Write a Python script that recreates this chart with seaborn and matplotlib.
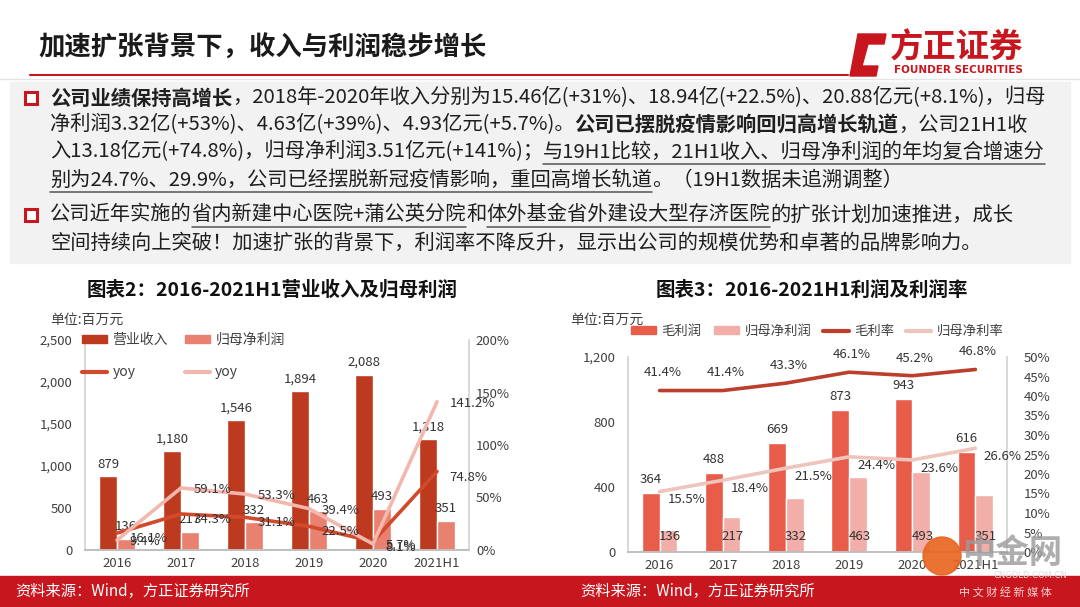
import matplotlib
matplotlib.use('Agg')
import matplotlib.pyplot as plt
import seaborn as sns
import pandas as pd
from matplotlib.patches import Patch, Rectangle, Polygon, Ellipse
from matplotlib.lines import Line2D
from matplotlib.ticker import FuncFormatter

# chart data (百万元 / %)
years = ['2016', '2017', '2018', '2019', '2020', '2021H1']
revenue = [879, 1180, 1546, 1894, 2088, 1318]
net_profit = [136, 217, 332, 463, 493, 351]
revenue_yoy = [16.1, 34.3, 31.1, 22.5, 8.1, 74.8]
profit_yoy = [9.4, 59.1, 53.3, 39.4, 5.7, 141.2]
gross_profit = [364, 488, 669, 873, 943, 616]
gross_margin = [41.4, 41.4, 43.3, 46.1, 45.2, 46.8]
net_margin = [15.5, 18.4, 21.5, 24.4, 23.6, 26.6]

# body text: (text, bold, underline)
line1 = [('公司业绩保持高增长', True, False),
         ('，2018年-2020年收入分别为15.46亿(+31%)、18.94亿(+22.5%)、20.88亿元(+8.1%)，归母', False, False)]
line2 = [('净利润3.32亿(+53%)、4.63亿(+39%)、4.93亿元(+5.7%)。', False, False),
         ('公司已摆脱疫情影响回归高增长轨道', True, False),
         ('，公司21H1收', False, False)]
line3 = [('入13.18亿元(+74.8%)，归母净利润3.51亿元(+141%)；', False, False),
         ('与19H1比较，21H1收入、归母净利润的年均复合增速分', False, True)]
line4 = [('别为24.7%、29.9%，公司已经摆脱新冠疫情影响，重回高增长轨道', False, True),
         ('。（19H1数据未追溯调整）', False, False)]
line5 = [('公司近年实施的', False, False),
         ('省内新建中心医院+蒲公英分院', False, True),
         ('和', False, False),
         ('体外基金省外建设大型存济医院', False, True),
         ('的扩张计划加速推进，成长', False, False)]
line6 = [('空间持续向上突破！加速扩张的背景下，利润率不降反升，显示出公司的规模优势和卓著的品牌影响力。', False, False)]

# colours
RED = '#C8161E'
C_REV = '#BE3A1E'
C_NP = '#EA8070'
C_REV_LINE = '#D24A2C'
C_NP_LINE = '#F2B8AE'
C_GP = '#E85C4A'
C_NP2 = '#F2AEA8'
C_GM_LINE = '#BC3F2C'
C_NM_LINE = '#EEC4BC'
TXT = '#333333'

sns.set_theme(style='white')
plt.rcParams['font.family'] = ['Noto Sans CJK SC', 'DejaVu Sans']
plt.rcParams['axes.unicode_minus'] = False

W, H = 1080, 607
fig = plt.figure(figsize=(W / 100, H / 100), dpi=100)
fig.patch.set_facecolor('white')


def fx(px):
    return px / W


def fy(py):
    return 1 - py / H


# ---------- header ----------
fig.text(fx(38), fy(48), '加速扩张背景下，收入与利润稳步增长', fontsize=19,
         fontweight='bold', color='#1a1a1a', va='center', ha='left')
fig.add_artist(Line2D([fx(30), fx(848)], [fy(75), fy(75)], transform=fig.transFigure,
                      color=RED, lw=1.5))
fig.add_artist(Line2D([fx(0), fx(1080)], [fy(79), fy(79)], transform=fig.transFigure,
                      color='#e4e4e4', lw=1))
logo = [(850, 76), (858, 34), (886, 34), (884, 44), (868, 44), (862, 66), (878, 66), (876, 76)]
fig.add_artist(Polygon([(fx(a), fy(b)) for a, b in logo], closed=True,
                       transform=fig.transFigure, color=RED))
fig.text(fx(890), fy(48), '方正证券', fontsize=24, fontweight='bold', color=RED,
         va='center', ha='left')
fig.text(fx(958), fy(70), 'FOUNDER SECURITIES', fontsize=7.5, fontweight='bold', color=RED,
         va='center', ha='center', family='DejaVu Sans')

# ---------- text box ----------
fig.add_artist(Rectangle((fx(10), fy(263)), fx(1060), 181 / H, transform=fig.transFigure,
                         color='#F2F2F2', zorder=0))
renderer = fig.canvas.get_renderer()


def write_line(x, y, parts, size=14.6):
    for txt, bold, under in parts:
        t = fig.text(fx(x), fy(y), txt, fontsize=size, color='#1f1f1f',
                     fontweight='bold' if bold else 'normal', va='center', ha='left')
        bb = t.get_window_extent(renderer)
        if under:
            fig.add_artist(Line2D([fx(bb.x0), fx(bb.x1)], [fy(y + 12), fy(y + 12)],
                                  transform=fig.transFigure, color='#555555', lw=1.1))
        x = bb.x1


for by in (98, 215):
    fig.add_artist(Rectangle((fx(25), fy(by + 6)), 12 / W, 12 / H, transform=fig.transFigure,
                             facecolor='white', edgecolor=RED, lw=2.2))

for yy, ln in zip([98, 125, 152, 180, 215, 243], [line1, line2, line3, line4, line5, line6]):
    write_line(50, yy, ln)

# ---------- left chart ----------
fig.text(fx(272), fy(290), '图表2：2016-2021H1营业收入及归母利润', fontsize=14,
         fontweight='bold', color='#111111', ha='center', va='center')
fig.text(fx(50), fy(320), '单位:百万元', fontsize=10, color='#404040', ha='left', va='center')

ax1 = fig.add_axes([fx(85), fy(550), 384 / W, 210 / H])
left_bars = pd.DataFrame({'year': years * 2, 'value': revenue + net_profit,
                          'series': ['营业收入'] * 6 + ['归母净利润'] * 6})
sns.barplot(data=left_bars, x='year', y='value', hue='series',
            hue_order=['营业收入', '归母净利润'], palette=[C_REV, C_NP],
            width=0.56, gap=0, saturation=1, errorbar=None, legend=False, ax=ax1)
for cont in ax1.containers:
    ax1.bar_label(cont, labels=[f'{v:,.0f}' for v in cont.datavalues], padding=4,
                  fontsize=9.5, color=TXT)
ax1.set_ylim(0, 2500)
ax1.set_yticks(range(0, 2501, 500))
ax1.yaxis.set_major_formatter(FuncFormatter(lambda v, p: f'{v:,.0f}'))

ax1r = ax1.twinx()
left_lines = pd.DataFrame({'pos': list(range(len(years))) * 2,
                           'value': revenue_yoy + profit_yoy,
                           'series': ['营收yoy'] * 6 + ['利润yoy'] * 6})
sns.lineplot(data=left_lines, x='pos', y='value', hue='series',
             hue_order=['营收yoy', '利润yoy'], palette=[C_REV_LINE, C_NP_LINE],
             linewidth=2.6, legend=False, ax=ax1r)
for i, v in enumerate(revenue_yoy):
    ax1r.annotate(f'{v:.1f}%', (i, v), xytext=(9, -4), textcoords='offset points',
                  ha='left', va='center', fontsize=9.5, color=TXT)
for i, v in enumerate(profit_yoy):
    ax1r.annotate(f'{v:.1f}%', (i, v), xytext=(9, -1), textcoords='offset points',
                  ha='left', va='center', fontsize=9.5, color=TXT)
ax1r.set_ylim(0, 200)
ax1r.set_yticks(range(0, 201, 50))
ax1r.yaxis.set_major_formatter(FuncFormatter(lambda v, p: f'{v:.0f}%'))
ax1.set_xlim(-0.5, len(years) - 0.5)

# ---------- right chart ----------
fig.text(fx(812), fy(290), '图表3：2016-2021H1利润及利润率', fontsize=14,
         fontweight='bold', color='#111111', ha='center', va='center')
fig.text(fx(570), fy(320), '单位:百万元', fontsize=10, color='#404040', ha='left', va='center')

ax2 = fig.add_axes([fx(628), fy(552), 379 / W, 195 / H])
right_bars = pd.DataFrame({'year': years * 2, 'value': gross_profit + net_profit,
                           'series': ['毛利润'] * 6 + ['归母净利润'] * 6})
sns.barplot(data=right_bars, x='year', y='value', hue='series',
            hue_order=['毛利润', '归母净利润'], palette=[C_GP, C_NP2],
            width=0.56, gap=0, saturation=1, errorbar=None, legend=False, ax=ax2)
ax2.bar_label(ax2.containers[0], labels=[f'{v:,.0f}' for v in ax2.containers[0].datavalues],
              padding=5, fontsize=9.5, color=TXT)
for bar, v in zip(ax2.containers[1], ax2.containers[1].datavalues):
    ax2.annotate(f'{v:,.0f}', (bar.get_x() + bar.get_width() / 2, 0), xytext=(1, 11),
                 textcoords='offset points', ha='center', va='center', fontsize=9.5, color=TXT)
ax2.set_ylim(0, 1200)
ax2.set_yticks(range(0, 1201, 400))
ax2.yaxis.set_major_formatter(FuncFormatter(lambda v, p: f'{v:,.0f}'))

ax2r = ax2.twinx()
right_lines = pd.DataFrame({'pos': list(range(len(years))) * 2,
                            'value': gross_margin + net_margin,
                            'series': ['毛利率'] * 6 + ['归母净利率'] * 6})
sns.lineplot(data=right_lines, x='pos', y='value', hue='series',
             hue_order=['毛利率', '归母净利率'], palette=[C_GM_LINE, C_NM_LINE],
             linewidth=2.6, legend=False, ax=ax2r)
for i, v in enumerate(gross_margin):
    ax2r.annotate(f'{v:.1f}%', (i, v), xytext=(2, 8), textcoords='offset points',
                  ha='center', va='bottom', fontsize=9.5, color=TXT)
for i, v in enumerate(net_margin):
    ax2r.annotate(f'{v:.1f}%', (i, v), xytext=(6, -6), textcoords='offset points',
                  ha='left', va='center', fontsize=9.5, color=TXT)
ax2r.set_ylim(0, 50)
ax2r.set_yticks(range(0, 51, 5))
ax2r.yaxis.set_major_formatter(FuncFormatter(lambda v, p: f'{v:.0f}%'))
ax2.set_xlim(-0.5, len(years) - 0.5)

# ---------- axes styling ----------
for ax, axr in ((ax1, ax1r), (ax2, ax2r)):
    ax.set_xlabel('')
    ax.set_ylabel('')
    axr.set_xlabel('')
    axr.set_ylabel('')
    for a in (ax, axr):
        a.spines['top'].set_visible(False)
        a.spines['left'].set_color('#D9D9D9')
        a.spines['right'].set_color('#D9D9D9')
        a.spines['bottom'].set_color('#BFBFBF')
        a.tick_params(axis='both', length=0, labelsize=9.5, labelcolor='#404040')
    ax.tick_params(axis='y', pad=9)
    ax.tick_params(axis='x', pad=5)
ax1r.tick_params(axis='y', pad=5)
ax2r.tick_params(axis='y', pad=12)

# ---------- legends ----------
h_left = [Patch(color=C_REV), Line2D([], [], color=C_REV_LINE, lw=3),
          Patch(color=C_NP), Line2D([], [], color=C_NP_LINE, lw=3)]
fig.legend(h_left, ['营业收入', 'yoy', '归母净利润', 'yoy'], ncol=2, loc='upper left',
           bbox_to_anchor=(fx(82), fy(333)), frameon=False, fontsize=10,
           handlelength=1.8, handleheight=0.5, handletextpad=0.4, columnspacing=1.2,
           labelspacing=1.3, borderpad=0, borderaxespad=0, labelcolor='#404040')
h_right = [Patch(color=C_GP), Patch(color=C_NP2),
           Line2D([], [], color=C_GM_LINE, lw=3), Line2D([], [], color=C_NM_LINE, lw=3)]
fig.legend(h_right, ['毛利润', '归母净利润', '毛利率', '归母净利率'], ncol=4, loc='center left',
           bbox_to_anchor=(fx(631), fy(331)), frameon=False, fontsize=9.6,
           handlelength=1.9, handleheight=0.5, handletextpad=0.4, columnspacing=0.9,
           borderpad=0, borderaxespad=0, labelcolor='#404040')

# ---------- footer ----------
fig.add_artist(Rectangle((0, 0), 1, 31 / H, transform=fig.transFigure, color=RED, zorder=0))
fig.text(fx(15), fy(591), '资料来源：Wind，方正证券研究所', fontsize=11, color='white',
         ha='left', va='center')
fig.text(fx(580), fy(591), '资料来源：Wind，方正证券研究所', fontsize=11, color='white',
         ha='left', va='center')

# watermark
fig.add_artist(Ellipse((fx(942), fy(556)), 38 / W, 38 / H, transform=fig.transFigure,
                       color='#E8641E', alpha=0.9))
fig.text(fx(1012), fy(553), '中金网', fontsize=24, color='#9a9a9a', alpha=0.8,
         ha='center', va='center', fontweight='bold')
fig.text(fx(1030), fy(575), 'CNGOLD.COM.CN', fontsize=6, color='#dddddd',
         ha='center', va='center', family='DejaVu Sans')
fig.text(fx(1005), fy(592), '中 文 财 经 新 媒 体', fontsize=8, color='#f3d0d0',
         ha='center', va='center')

fig.savefig('out.png', dpi=100)
